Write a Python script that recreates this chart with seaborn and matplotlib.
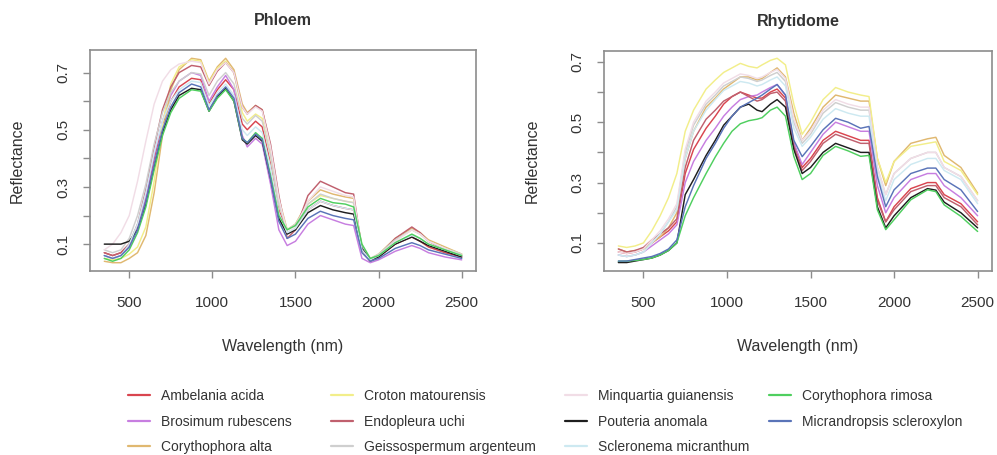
import numpy as np
import pandas as pd
import matplotlib
matplotlib.use("Agg")
import matplotlib.pyplot as plt
from matplotlib.lines import Line2D
import seaborn as sns

# ---------------- data ----------------
wavelength = [350, 400, 450, 500, 550, 600, 650, 700, 750, 800, 875, 930, 980, 1030, 1080,
              1130, 1180, 1210, 1260, 1300, 1350, 1400, 1450, 1500, 1575, 1650, 1725, 1800,
              1850, 1900, 1950, 2000, 2100, 2200, 2250, 2300, 2400, 2500]

species = ["Ambelania acida", "Brosimum rubescens", "Corythophora alta",
           "Croton matourensis", "Endopleura uchi", "Geissospermum argenteum",
           "Minquartia guianensis", "Pouteria anomala", "Scleronema micranthum",
           "Corythophora rimosa", "Micrandropsis scleroxylon"]

colors = ["#d9454f", "#c77ee0", "#e0b870", "#f2ee8a", "#c0606e", "#cfcfcf",
          "#f1dde6", "#1e1e1e", "#cde9f1", "#4fcf5f", "#5a74b8"]

phloem = {
    "Ambelania acida": [0.07,0.06,0.07,0.10,0.16,0.26,0.40,0.52,0.60,0.65,0.68,0.675,0.59,0.64,0.675,0.64,0.52,0.50,0.53,0.51,0.38,0.22,0.14,0.155,0.22,0.25,0.235,0.225,0.22,0.08,0.04,0.055,0.10,0.125,0.11,0.09,0.07,0.055],
    "Brosimum rubescens": [0.06,0.05,0.06,0.09,0.16,0.27,0.41,0.53,0.62,0.67,0.70,0.69,0.60,0.65,0.69,0.64,0.48,0.44,0.47,0.45,0.31,0.15,0.095,0.11,0.17,0.20,0.185,0.17,0.165,0.05,0.035,0.045,0.075,0.095,0.085,0.07,0.055,0.045],
    "Corythophora alta": [0.04,0.035,0.035,0.05,0.07,0.13,0.28,0.48,0.64,0.71,0.75,0.745,0.67,0.72,0.75,0.71,0.59,0.56,0.585,0.57,0.44,0.26,0.15,0.17,0.25,0.29,0.275,0.265,0.26,0.09,0.045,0.065,0.12,0.155,0.14,0.115,0.09,0.065],
    "Croton matourensis": [0.05,0.045,0.05,0.065,0.09,0.16,0.32,0.52,0.66,0.72,0.745,0.74,0.665,0.715,0.74,0.70,0.56,0.53,0.555,0.54,0.41,0.24,0.15,0.17,0.24,0.27,0.26,0.25,0.245,0.09,0.05,0.065,0.115,0.15,0.135,0.11,0.085,0.065],
    "Endopleura uchi": [0.07,0.06,0.07,0.10,0.17,0.29,0.44,0.57,0.65,0.70,0.725,0.72,0.655,0.705,0.735,0.70,0.58,0.555,0.585,0.57,0.45,0.27,0.12,0.15,0.27,0.32,0.30,0.28,0.275,0.08,0.04,0.06,0.12,0.16,0.14,0.11,0.08,0.06],
    "Geissospermum argenteum": [0.08,0.07,0.08,0.12,0.20,0.31,0.45,0.56,0.63,0.67,0.70,0.695,0.62,0.67,0.70,0.66,0.54,0.52,0.55,0.53,0.41,0.24,0.15,0.17,0.24,0.275,0.26,0.25,0.245,0.09,0.05,0.065,0.115,0.15,0.135,0.11,0.085,0.065],
    "Minquartia guianensis": [0.08,0.10,0.14,0.20,0.32,0.46,0.59,0.67,0.71,0.73,0.74,0.735,0.66,0.71,0.735,0.70,0.58,0.555,0.58,0.565,0.44,0.26,0.14,0.16,0.25,0.30,0.285,0.27,0.265,0.085,0.045,0.06,0.11,0.15,0.135,0.11,0.085,0.06],
    "Pouteria anomala": [0.10,0.10,0.10,0.11,0.15,0.24,0.37,0.49,0.57,0.62,0.645,0.64,0.565,0.615,0.645,0.60,0.465,0.45,0.48,0.46,0.33,0.19,0.135,0.15,0.21,0.235,0.22,0.21,0.205,0.085,0.045,0.055,0.10,0.125,0.11,0.095,0.075,0.055],
    "Scleronema micranthum": [0.06,0.05,0.06,0.10,0.17,0.28,0.42,0.53,0.60,0.64,0.67,0.665,0.585,0.63,0.66,0.62,0.50,0.48,0.51,0.49,0.37,0.21,0.14,0.155,0.22,0.25,0.235,0.225,0.22,0.08,0.045,0.06,0.105,0.13,0.12,0.10,0.08,0.06],
    "Corythophora rimosa": [0.05,0.04,0.05,0.08,0.14,0.23,0.36,0.48,0.56,0.61,0.64,0.635,0.565,0.61,0.64,0.60,0.47,0.455,0.49,0.47,0.34,0.20,0.15,0.165,0.23,0.26,0.245,0.24,0.23,0.10,0.05,0.06,0.105,0.135,0.12,0.10,0.08,0.06],
    "Micrandropsis scleroxylon": [0.06,0.05,0.06,0.09,0.15,0.25,0.38,0.50,0.58,0.63,0.66,0.65,0.57,0.62,0.65,0.61,0.47,0.455,0.485,0.465,0.33,0.18,0.12,0.135,0.19,0.215,0.20,0.19,0.185,0.07,0.04,0.05,0.085,0.105,0.095,0.08,0.065,0.05],
}

rhytidome = {
    "Ambelania acida": [0.07,0.065,0.07,0.08,0.10,0.12,0.14,0.17,0.33,0.41,0.48,0.52,0.56,0.585,0.60,0.59,0.58,0.58,0.60,0.61,0.58,0.43,0.35,0.38,0.44,0.47,0.455,0.44,0.44,0.25,0.17,0.22,0.28,0.30,0.30,0.26,0.23,0.17],
    "Brosimum rubescens": [0.06,0.055,0.06,0.07,0.09,0.11,0.13,0.16,0.30,0.37,0.44,0.48,0.52,0.55,0.575,0.585,0.59,0.60,0.615,0.625,0.59,0.43,0.36,0.40,0.46,0.50,0.485,0.47,0.47,0.29,0.20,0.25,0.31,0.33,0.33,0.29,0.25,0.19],
    "Corythophora alta": [0.08,0.07,0.075,0.08,0.10,0.12,0.15,0.20,0.38,0.47,0.55,0.58,0.61,0.63,0.65,0.65,0.64,0.645,0.665,0.68,0.65,0.53,0.44,0.48,0.55,0.59,0.58,0.57,0.57,0.38,0.29,0.37,0.43,0.445,0.45,0.39,0.35,0.265],
    "Croton matourensis": [0.09,0.085,0.09,0.10,0.14,0.19,0.25,0.33,0.47,0.54,0.61,0.64,0.665,0.68,0.695,0.685,0.68,0.69,0.705,0.712,0.69,0.56,0.46,0.50,0.575,0.615,0.60,0.59,0.585,0.38,0.30,0.37,0.42,0.43,0.435,0.37,0.34,0.26],
    "Endopleura uchi": [0.08,0.07,0.075,0.085,0.11,0.13,0.15,0.18,0.35,0.44,0.51,0.54,0.57,0.585,0.60,0.585,0.57,0.575,0.595,0.60,0.57,0.42,0.34,0.37,0.43,0.46,0.445,0.43,0.43,0.24,0.17,0.21,0.27,0.29,0.29,0.25,0.22,0.16],
    "Geissospermum argenteum": [0.06,0.055,0.06,0.07,0.10,0.13,0.17,0.22,0.40,0.49,0.56,0.59,0.62,0.635,0.65,0.645,0.635,0.64,0.655,0.665,0.635,0.50,0.43,0.46,0.53,0.565,0.55,0.54,0.54,0.35,0.26,0.33,0.38,0.40,0.40,0.35,0.32,0.24],
    "Minquartia guianensis": [0.07,0.065,0.07,0.08,0.11,0.14,0.18,0.23,0.41,0.50,0.57,0.60,0.63,0.645,0.66,0.655,0.645,0.65,0.665,0.675,0.645,0.51,0.44,0.47,0.54,0.575,0.56,0.55,0.55,0.35,0.26,0.33,0.38,0.40,0.40,0.35,0.32,0.24],
    "Pouteria anomala": [0.035,0.035,0.04,0.045,0.05,0.06,0.075,0.10,0.26,0.31,0.39,0.44,0.49,0.52,0.55,0.56,0.54,0.535,0.56,0.575,0.55,0.41,0.33,0.35,0.40,0.43,0.415,0.40,0.40,0.22,0.15,0.19,0.25,0.28,0.275,0.235,0.20,0.15],
    "Scleronema micranthum": [0.06,0.055,0.06,0.07,0.10,0.13,0.17,0.21,0.38,0.47,0.54,0.575,0.605,0.62,0.635,0.63,0.62,0.625,0.64,0.65,0.62,0.48,0.42,0.45,0.51,0.545,0.53,0.52,0.52,0.33,0.24,0.31,0.36,0.38,0.38,0.34,0.31,0.23],
    "Corythophora rimosa": [0.039,0.04,0.042,0.045,0.05,0.06,0.075,0.10,0.19,0.25,0.33,0.385,0.43,0.47,0.495,0.505,0.51,0.515,0.54,0.55,0.52,0.387,0.31,0.33,0.39,0.42,0.405,0.387,0.39,0.21,0.144,0.177,0.243,0.276,0.27,0.226,0.188,0.138],
    "Micrandropsis scleroxylon": [0.04,0.04,0.045,0.05,0.055,0.065,0.08,0.11,0.22,0.29,0.38,0.43,0.48,0.52,0.55,0.565,0.58,0.59,0.61,0.625,0.59,0.44,0.386,0.42,0.475,0.513,0.50,0.48,0.486,0.32,0.22,0.276,0.33,0.348,0.348,0.31,0.276,0.204],
}

xticks = [500, 1000, 1500, 2000, 2500]
yticks = [0.1, 0.2, 0.3, 0.4, 0.5, 0.6, 0.7]
ytick_labels = ["0.1", "", "0.3", "", "0.5", "", "0.7"]

# ---------------- build long tables ----------------
def long_table(d):
    rows = []
    for sp in species:
        for w, r in zip(wavelength, d[sp]):
            rows.append((sp, w, r))
    return pd.DataFrame(rows, columns=["species", "wavelength", "reflectance"])

df_ph = long_table(phloem)
df_rh = long_table(rhytidome)
palette = dict(zip(species, colors))

# ---------------- figure ----------------
sns.set_style("white")
plt.rcParams["font.family"] = ["Liberation Sans", "DejaVu Sans"]
TXT = "#333333"
AX = "#8c8c8c"

fig = plt.figure(figsize=(9.97, 4.55), dpi=100)
H = 455.0
W = 997.0
ax1 = fig.add_axes([90 / W, (H - 271) / H, 386 / W, 221 / H])
ax2 = fig.add_axes([604 / W, (H - 271) / H, 388 / W, 220 / H])

panels = [(ax1, df_ph, "Phloem", (0.006, 0.779)),
          (ax2, df_rh, "Rhytidome", (0.007, 0.736))]

for ax, df, title, ylim in panels:
    sns.lineplot(data=df, x="wavelength", y="reflectance", hue="species",
                 palette=palette, hue_order=species, estimator=None, sort=False,
                 linewidth=1.05, legend=False, ax=ax)
    ax.set_xlim(264, 2586)
    ax.set_ylim(*ylim)
    ax.set_xticks(xticks)
    ax.set_xticklabels([str(t) for t in xticks])
    ax.set_yticks(yticks)
    ax.set_yticklabels(ytick_labels)
    for lab in ax.get_yticklabels():
        lab.set_rotation(90)
        lab.set_va("center")
    ax.tick_params(axis="both", which="both", direction="out", length=5,
                   width=1.0, color=AX, labelcolor=TXT, labelsize=11,
                   bottom=True, left=True, top=False, right=False)
    ax.tick_params(axis="x", pad=13)
    ax.tick_params(axis="y", pad=9)
    for s in ax.spines.values():
        s.set_visible(True)
        s.set_color(AX)
        s.set_linewidth(1.2)
    ax.set_title(title, fontsize=11.5, fontweight="bold", color=TXT, pad=18)
    ax.set_xlabel("Wavelength (nm)", fontsize=11.5, color=TXT)
    ax.set_ylabel("Reflectance", fontsize=11.5, color=TXT)
    ax.xaxis.label.set_va("center")
    ax.yaxis.label.set_va("center")
    ax.grid(False)

ax1.xaxis.set_label_coords(0.5, (271 - 347) / 221)
ax2.xaxis.set_label_coords(0.5, (271 - 347) / 220)
ax1.yaxis.set_label_coords((17 - 90) / 386, 0.5)
ax2.yaxis.set_label_coords((532 - 604) / 388, 0.5)

# ---------------- legend (4 columns) ----------------
col_x = [128, 331, 565, 769]
groups = [species[0:3], species[3:6], species[6:9], species[9:11]]
for x0, grp in zip(col_x, groups):
    handles = [Line2D([0], [0], color=palette[s], lw=1.6) for s in grp]
    fig.legend(handles, grp, loc="upper left",
               bbox_to_anchor=(x0 / W, (H - 389) / H), frameon=False,
               fontsize=10, handlelength=1.6, handletextpad=0.8,
               labelspacing=0.83, borderpad=0, borderaxespad=0,
               labelcolor=TXT)

fig.savefig("out.png", dpi=100, facecolor="white")
